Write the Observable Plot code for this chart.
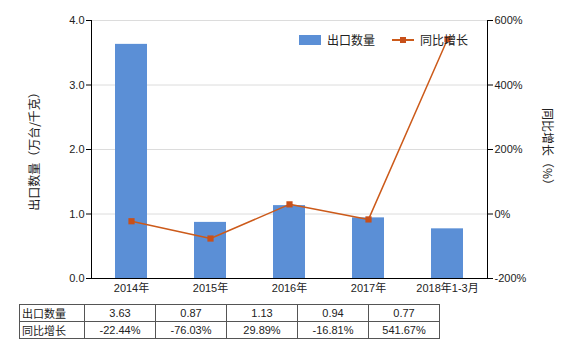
<!DOCTYPE html>
<html><head><meta charset="utf-8">
<script src="https://cdn.jsdelivr.net/npm/d3@7"></script>
<script src="https://cdn.jsdelivr.net/npm/@observablehq/plot@0.6"></script>
<style>
body{margin:0;background:#fff;font-family:"Liberation Sans","Noto Sans CJK SC",sans-serif;}
#wrap{position:relative;width:580px;height:350px;}
#chart{position:absolute;left:0;top:0;}
.ytitle{position:absolute;font-size:12px;color:#222;font-family:"Noto Sans CJK SC",sans-serif;white-space:nowrap;}
#legend{position:absolute;left:299px;top:31px;font-size:12px;font-family:"Noto Sans CJK SC",sans-serif;color:#222;display:flex;align-items:center;}
table{position:absolute;left:19px;top:304px;border-collapse:collapse;font-size:11px;color:#222;}
td{border:1px solid #555;height:16px;padding:0;text-align:center;width:70px;}
td.h{width:62px;text-align:left;padding-left:2px;font-family:"Noto Sans CJK SC",sans-serif;}
</style></head>
<body><div id="wrap"><div id="chart"></div>
<div class="ytitle" id="lt">出口数量（万台/千克）</div>
<div class="ytitle" id="rt">同比增长（%）</div>
<div id="legend"><span style="display:inline-block;width:22px;height:10px;background:#5b8fd6;margin-right:6px"></span>出口数量
<svg width="22" height="10" style="margin-left:17px;margin-right:6px"><line x1="0" y1="5" x2="22" y2="5" stroke="#cc5a1a" stroke-width="2"/><rect x="8" y="2" width="6" height="6" fill="#c8501a"/></svg>同比增长</div>
<table id="tbl"></table>
</div>
<script>
const categories = ["2014年","2015年","2016年","2017年","2018年1-3月"];
const quantity = [3.63, 0.87, 1.13, 0.94, 0.77];
const growth = [-22.44, -76.03, 29.89, -16.81, 541.67];
const leftTicks = [0, 1, 2, 3, 4];
const rightTicks = [-200, 0, 200, 400, 600];

// right axis (-200..600%) mapped onto left axis (0..4)
const toLeft = p => (p + 200) / 200;
const data = categories.map((c, i) => ({cat: c, q: quantity[i], g: growth[i], gy: toLeft(growth[i])}));

const chart = Plot.plot({
  width: 580, height: 300,
  marginLeft: 91, marginRight: 93, marginTop: 20, marginBottom: 22,
  style: {fontSize: "11px", fontFamily: "Liberation Sans, Noto Sans CJK SC, sans-serif", color: "#222"},
  x: {domain: categories, paddingInner: 0.6, paddingOuter: 0.3, align: 0.5},
  y: {domain: [0, 4]},
  marks: [
    Plot.gridY(leftTicks, {stroke: "#dcdcdc", strokeOpacity: 1}),
    Plot.barY(data, {x: "cat", y: "q", fill: "#5b8fd6"}),
    Plot.line(data, {x: "cat", y: "gy", stroke: "#cc5a1a", strokeWidth: 1.5}),
    Plot.dot(data, {x: "cat", y: "gy", symbol: "square", r: 3.5, fill: "#c8501a", stroke: "none"}),
    Plot.axisY(leftTicks, {anchor: "left", tickSize: 5, tickPadding: 2, tickFormat: d3.format(".1f"), stroke: "#000", label: null}),
    Plot.axisY(rightTicks.map(toLeft), {anchor: "right", tickSize: 5, tickPadding: 2, tickFormat: (d) => Math.round(d * 200 - 200) + "%", stroke: "#000", label: null}),
    Plot.axisX({tickSize: 0, tickPadding: 6, label: null}),
    Plot.frame({anchor: "left", stroke: "#000"}),
    Plot.frame({anchor: "right", stroke: "#000"}),
    Plot.frame({anchor: "bottom", stroke: "#000"})
  ]
});
document.getElementById("chart").appendChild(chart);

// titles
const lt = document.getElementById("lt");
lt.style.left = (33 - lt.offsetWidth/2) + "px";
lt.style.top = (148 - lt.offsetHeight/2) + "px";
lt.style.transform = "rotate(-90deg)";
const rt = document.getElementById("rt");
rt.style.left = (548 - rt.offsetWidth/2) + "px";
rt.style.top = (149 - rt.offsetHeight/2) + "px";
rt.style.transform = "rotate(90deg)";

// table
const tbl = document.getElementById("tbl");
const r1 = "<tr><td class='h'>出口数量</td>" + quantity.map(v => `<td>${v.toFixed(2)}</td>`).join("") + "</tr>";
const r2 = "<tr><td class='h'>同比增长</td>" + growth.map(v => `<td>${v.toFixed(2)}%</td>`).join("") + "</tr>";
tbl.innerHTML = r1 + r2;
</script></body></html>
